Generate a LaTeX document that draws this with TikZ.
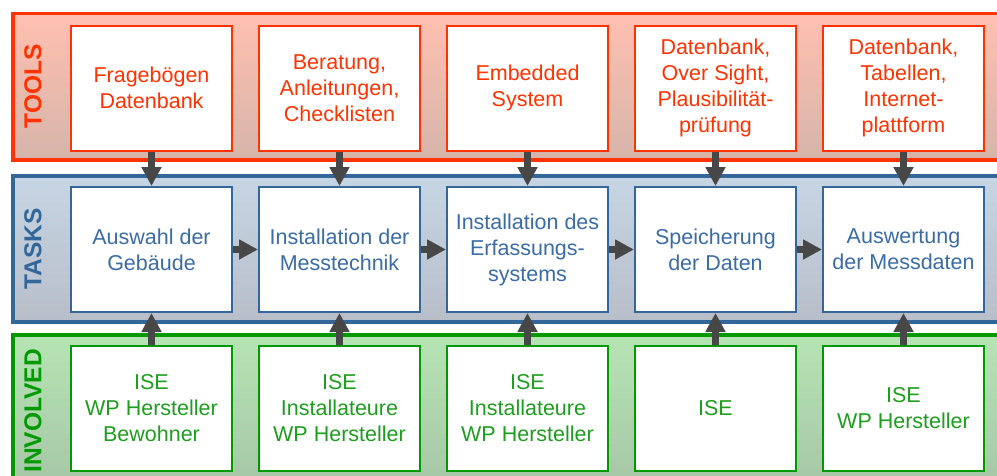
\documentclass[tikz,border=0pt]{standalone}
\usepackage{fontspec}
\setmainfont{Liberation Sans}
\usetikzlibrary{arrows.meta}
\definecolor{toolc}{HTML}{FF3300}
\definecolor{taskc}{HTML}{336699}
\definecolor{taskt}{HTML}{3A6CA6}
\definecolor{invc}{HTML}{009900}
\definecolor{invt}{HTML}{1E9E1E}
\definecolor{arrc}{HTML}{474747}
\tikzset{
  band/.style={line width=3.6pt},
  box/.style={draw, fill=white, line width=2pt, minimum width=161pt, minimum height=125pt,
    inner sep=0pt, align=center, font=\fontsize{21.5}{26}\selectfont},
  toolbox/.style={box, draw=toolc, text=toolc},
  taskbox/.style={box, draw=taskc, text=taskt},
  invbox/.style={box, draw=invc, text=invt},
  bandlabel/.style={rotate=90, font=\fontsize{24.5}{28}\selectfont\bfseries},
  bigarrow/.style={draw=arrc, line width=7pt, -{Triangle[width=19pt,length=19pt]}},
}
\begin{document}
\begin{tikzpicture}[x=1pt,y=-1pt]
\useasboundingbox (0,0) rectangle (997,475);
\clip (0,0) rectangle (997,475);
% bands
\draw[band, draw=toolc, top color={rgb,255:red,255;green,192;blue,176}, bottom color={rgb,255:red,214;green,180;blue,170}] (13,13.5) rectangle (1012,160);
\draw[band, draw=taskc, top color={rgb,255:red,198;green,213;blue,228}, bottom color={rgb,255:red,184;green,190;blue,200}] (13,176) rectangle (1012,322);
\draw[band, draw=invc, top color={rgb,255:red,182;green,228;blue,180}, bottom color={rgb,255:red,166;green,198;blue,166}] (13,335) rectangle (1012,487);
% band labels
\node[bandlabel, text=toolc] (ltools) at (33,86.5) {TOOLS};
\node[bandlabel, text=taskc] (ltasks) at (33,249) {TASKS};
\node[bandlabel, text=invc] (linv) at (33,411) {INVOLVED};
% tool boxes
\node[toolbox] (t1) at (151.5,88) {Fragebögen\\Datenbank};
\node[toolbox] (t2) at (339.5,88) {Beratung,\\Anleitungen,\\Checklisten};
\node[toolbox] (t3) at (527.5,88) {Embedded\\System};
\node[toolbox] (t4) at (715.5,88) {Datenbank,\\Over Sight,\\Plausibilität-\\prüfung};
\node[toolbox] (t5) at (903.5,88) {Datenbank,\\Tabellen,\\Internet-\\plattform};
% task boxes
\node[taskbox] (k1) at (151.5,249.5) {Auswahl der\\Gebäude};
\node[taskbox] (k2) at (339.5,249.5) {Installation der\\Messtechnik};
\node[taskbox] (k3) at (527.5,249.5) {Installation des\\Erfassungs-\\systems};
\node[taskbox] (k4) at (715.5,249.5) {Speicherung\\der Daten};
\node[taskbox] (k5) at (903.5,249.5) {Auswertung\\der Messdaten};
% involved boxes
\node[invbox] (i1) at (151.5,408.5) {ISE\\WP Hersteller\\Bewohner};
\node[invbox] (i2) at (339.5,408.5) {ISE\\Installateure\\WP Hersteller};
\node[invbox] (i3) at (527.5,408.5) {ISE\\Installateure\\WP Hersteller};
\node[invbox] (i4) at (715.5,408.5) {ISE};
\node[invbox] (i5) at (903.5,408.5) {ISE\\WP Hersteller};
% arrows
\foreach \n in {1,...,5}{
  \draw[bigarrow] (t\n.south) -- (k\n.north);
  \draw[bigarrow] (i\n.north) -- (k\n.south);
}
\foreach \a/\b in {1/2,2/3,3/4,4/5}{
  \draw[bigarrow] (k\a.east) -- (k\b.west);
}
\end{tikzpicture}
\end{document}
